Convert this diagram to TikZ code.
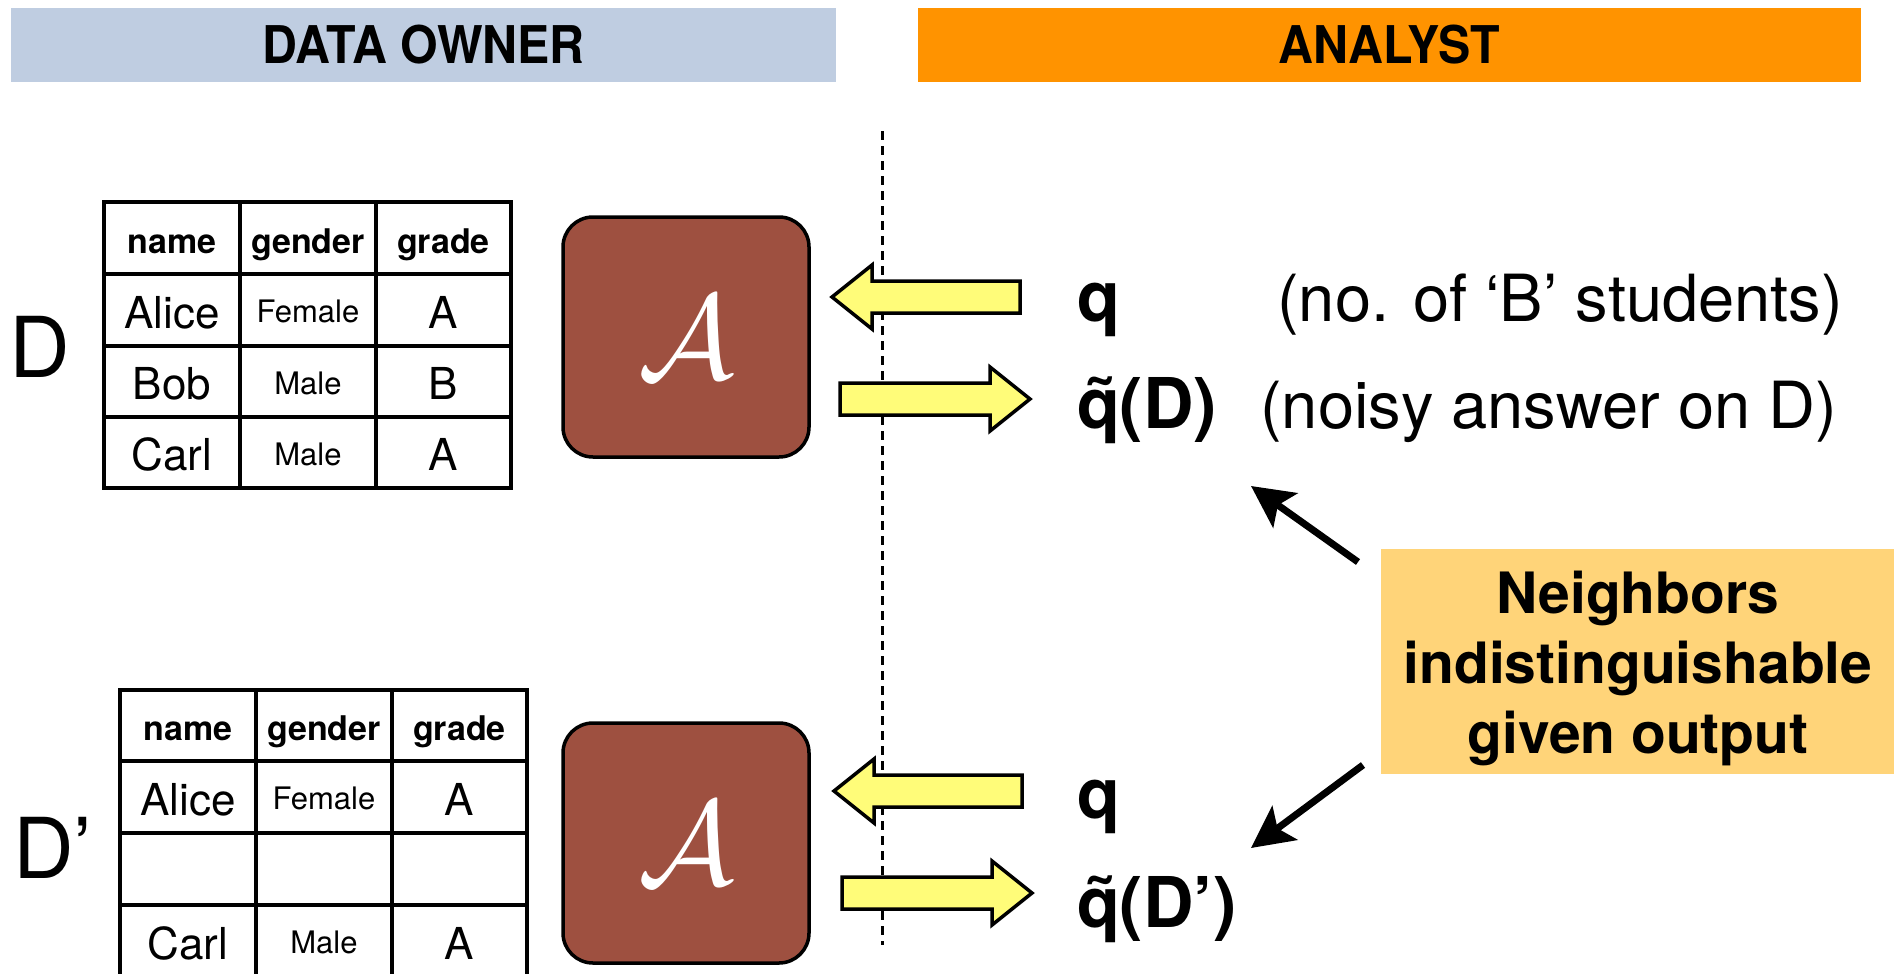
\documentclass[tikz,border=0pt]{standalone}
\usepackage{fontspec}
\usepackage{graphicx}
\setmainfont{TeX Gyre Heros}
\newfontfamily\hdrfont[FakeStretch=0.93]{TeX Gyre Heros}
\usetikzlibrary{arrows.meta,calc}

\definecolor{ownerblue}{RGB}{191,205,225}
\definecolor{analystorange}{RGB}{255,147,0}
\definecolor{mechbrown}{RGB}{158,80,64}
\definecolor{flowyellow}{RGB}{255,252,121}
\definecolor{notecantaloupe}{RGB}{255,212,121}

\begin{document}
\begin{tikzpicture}[x=1pt,y=-1pt,
  header/.style={inner sep=0pt, minimum height=74pt,
    font=\hdrfont\bfseries\fontsize{52}{60}\selectfont,
    text height=37pt, text depth=0pt},
  tline/.style={line width=3.5pt, line cap=rect},
  cellhead/.style={anchor=base, inner sep=0pt, font=\bfseries\fontsize{34}{40}\selectfont},
  cellbig/.style={anchor=base, inner sep=0pt, font=\fontsize{44}{50}\selectfont},
  cellsmall/.style={anchor=base, inner sep=0pt, font=\fontsize{31}{36}\selectfont},
  dblabel/.style={anchor=base west, inner sep=0pt, font=\fontsize{84}{90}\selectfont},
  mech/.style={draw=black, line width=3.5pt, fill=mechbrown, rounded corners=30pt,
    minimum width=246pt, minimum height=240pt, inner sep=0pt, text=white},
  yarrow/.style={draw=black, line width=3.5pt, fill=flowyellow, line join=miter},
  qlabel/.style={anchor=base west, inner sep=0pt, font=\bfseries\fontsize{70}{80}\selectfont},
  note/.style={anchor=base west, inner sep=0pt, font=\fontsize{65}{72}\selectfont},
  pointer/.style={line width=7pt, -{Stealth[length=42pt,width=42pt,inset=9pt]}},
  divider/.style={line width=3pt, dash pattern=on 9pt off 6pt}
]
\useasboundingbox (0,0) rectangle (1900,974);

% ---------- headers ----------
\node[header, fill=ownerblue, minimum width=825pt] (owner) at (423.5,45) {DATA OWNER};
\node[header, fill=analystorange, minimum width=943pt] (analyst) at (1389.5,45) {ANALYST};

% ---------- divider between the two parties ----------
\coordinate (divtop) at (882,131);
\coordinate (divbot) at (882,945);
\draw[divider] (divtop) -- (divbot);

% ---------- database D ----------
\node[dblabel] (dlab) at (9,377) {D};
\draw[tline] (104,202) rectangle (511,488);
\foreach \x in {240,376} \draw[tline] (\x,202) -- (\x,488);
\foreach \y in {274,346,417} \draw[tline] (104,\y) -- (511,\y);
\node[cellhead] (d11) at (172,253) {name};
\node[cellhead] (d12) at (308,253) {gender};
\node[cellhead] (d13) at (443.5,253) {grade};
\node[cellbig]   (d21) at (172,328) {Alice};
\node[cellsmall] (d22) at (308,322.5) {Female};
\node[cellbig]   (d23) at (443.5,328) {A};
\node[cellbig]   (d31) at (172,399.5) {Bob};
\node[cellsmall] (d32) at (308,394) {Male};
\node[cellbig]   (d33) at (443.5,399.5) {B};
\node[cellbig]   (d41) at (172,470.5) {Carl};
\node[cellsmall] (d42) at (308,465) {Male};
\node[cellbig]   (d43) at (443.5,470.5) {A};

% ---------- neighbouring database D' ----------
\node[dblabel] (dplab) at (13,878) {D’};
\draw[tline] (120,978) -- (120,690) -- (527,690) -- (527,978);
\foreach \x in {256,392} \draw[tline] (\x,690) -- (\x,978);
\foreach \y in {761,833,905} \draw[tline] (120,\y) -- (527,\y);
\node[cellhead] (e11) at (188,740) {name};
\node[cellhead] (e12) at (324,740) {gender};
\node[cellhead] (e13) at (459.5,740) {grade};
\node[cellbig]   (e21) at (188,815) {Alice};
\node[cellsmall] (e22) at (324,809.5) {Female};
\node[cellbig]   (e23) at (459.5,815) {A};
\node[cellbig]   (e41) at (188,959) {Carl};
\node[cellsmall] (e42) at (324,953.5) {Male};
\node[cellbig]   (e43) at (459.5,959) {A};

% ---------- mechanisms ----------
\node[mech] (mech1) at (686,337) {\scalebox{12}{$\mathcal{A}$}};
\node[mech] (mech2) at (686,843) {\scalebox{12}{$\mathcal{A}$}};

% ---------- queries and answers ----------
\node[qlabel] (q1)  at (1077,321) {q};
\node[qlabel] (qt1) at (1077,428) {\~{q}(D)};
\node[note] (n1) at (1277,321) {(no. of ‘B’ students)};
\node[note] (n2) at (1260,428) {(noisy answer on D)};

\node[qlabel] (q2)  at (1077,818) {q};
\node[qlabel] (qt2) at (1077,927) {\~{q}(D’)};

% block arrows: query in, noisy answer out
\coordinate (qin1)  at (1020,297);
\coordinate (qout1) at (840,399);
\coordinate (qin2)  at (1022,791);
\coordinate (qout2) at (842,893);
\draw[yarrow] (qin1) ++(0,-16) -- ++(-148,0) -- ++(0,-16) -- ++(-40,32)
  -- ++(40,32) -- ++(0,-16) -- ++(148,0) -- cycle;
\draw[yarrow] (qout1) ++(0,-16) -- ++(150,0) -- ++(0,-16) -- ++(40,32)
  -- ++(-40,32) -- ++(0,-16) -- ++(-150,0) -- cycle;
\draw[yarrow] (qin2) ++(0,-16) -- ++(-148,0) -- ++(0,-16) -- ++(-40,32)
  -- ++(40,32) -- ++(0,-16) -- ++(148,0) -- cycle;
\draw[yarrow] (qout2) ++(0,-16) -- ++(150,0) -- ++(0,-16) -- ++(40,32)
  -- ++(-40,32) -- ++(0,-16) -- ++(-150,0) -- cycle;

% ---------- indistinguishability note ----------
\node[fill=notecantaloupe, minimum width=513pt, minimum height=225pt, inner sep=0pt]
  (nbox) at (1637.5,661.5) {};
\node[align=center, inner sep=0pt, font=\bfseries\fontsize{57}{70}\selectfont]
  (ntext) at (1638,668) {Neighbors\\indistinguishable\\given output};

\coordinate (p1s) at (1358,562);
\coordinate (p1e) at (1251,486);
\coordinate (p2s) at (1363,765);
\coordinate (p2e) at (1251,848);
\draw[pointer] (p1s) -- (p1e);
\draw[pointer] (p2s) -- (p2e);
\end{tikzpicture}
\end{document}
